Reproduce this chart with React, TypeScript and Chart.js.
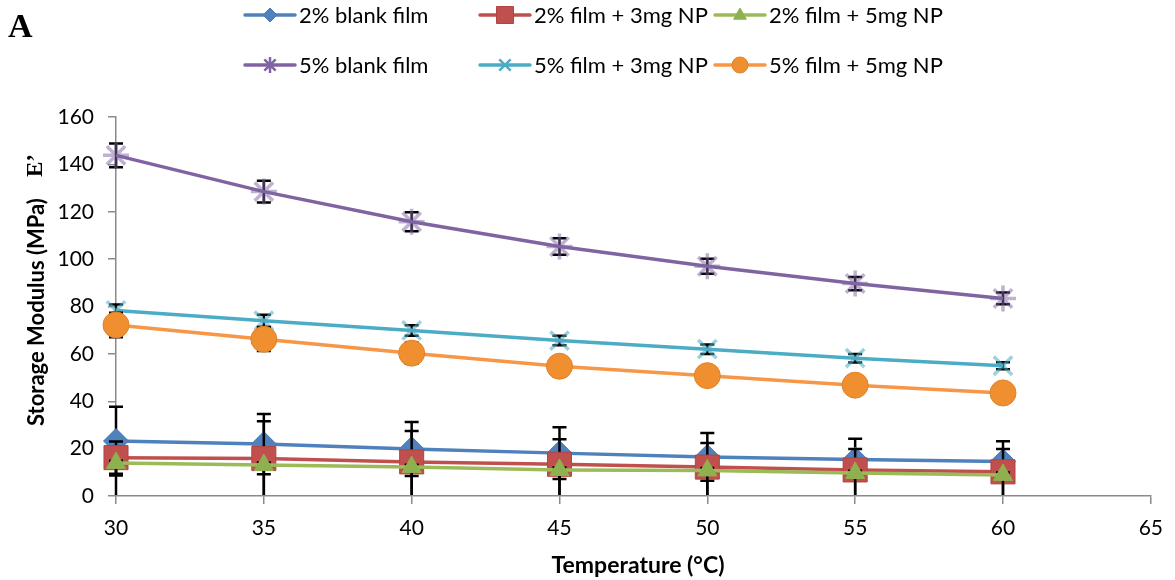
import React, { useEffect, useRef } from 'react';
import { Chart, registerables } from 'chart.js';

Chart.register(...registerables);

// ---------- data ----------
const temperatures = [30, 35, 40, 45, 50, 55, 60];
const xTickValues = [30, 35, 40, 45, 50, 55, 60, 65];
const yTickValues = [0, 20, 40, 60, 80, 100, 120, 140, 160];

const seriesLabels = [
  '2% blank film',
  '2% film + 3mg NP',
  '2% film + 5mg NP',
  '5% blank film',
  '5% film + 3mg NP',
  '5% film + 5mg NP',
];

const blank2 = [23.2, 21.9, 19.8, 18.1, 16.5, 15.4, 14.6];
const blank2ErrPlus = [14.5, 12.7, 11.4, 10.9, 10.1, 8.8, 8.5];
const blank2ErrMinus = [14.5, 12.7, 11.4, 10.9, 10.1, 8.8, 8.5];

const film2np3 = [16.2, 15.8, 14.4, 13.4, 12.2, 11.0, 10.2];
const film2np3ErrPlus = [6.8, 15.8, 13.0, 10.6, 10.2, 8.8, 9.6];
const film2np3ErrMinus = [6.8, 16.5, 15.0, 14.0, 13.0, 12.0, 11.0];

const film2np5 = [13.9, 13.1, 12.2, 11.0, 10.8, 9.7, 8.9];
const film2np5ErrPlus = [1.0, 1.0, 1.0, 1.0, 1.0, 1.0, 1.0];
const film2np5ErrMinus = [14.5, 14.0, 13.0, 12.0, 11.5, 10.5, 10.0];

const blank5 = [143.8, 128.5, 115.8, 105.3, 97.0, 89.7, 83.4];
const blank5Err = [5.0, 4.6, 4.0, 3.5, 3.2, 2.8, 2.5];

const film5np3 = [78.3, 74.0, 69.9, 65.6, 62.0, 58.2, 55.0];
const film5np3Err = [2.5, 2.5, 2.2, 2.0, 2.0, 1.8, 1.5];

const film5np5 = [72.2, 66.2, 60.3, 54.8, 50.8, 46.8, 43.5];
const film5np5Err = [5.2, 5.0, 4.5, 4.2, 4.0, 3.6, 3.2];

// ---------- styling ----------
const SANS = 'Lato, "Open Sans", sans-serif';
const SERIF = '"Liberation Serif", "DejaVu Serif", serif';

type Series = {
  label: string;
  values: number[];
  errPlus: number[];
  errMinus: number[];
  color: string;
  style: string;
  radius: number;
  fill: string;
  border: string;
  borderWidth: number;
  legendRadius: number;
  legendBorder: string;
};

const series: Series[] = [
  { label: seriesLabels[0], values: blank2, errPlus: blank2ErrPlus, errMinus: blank2ErrMinus, color: '#4F81BD', style: 'rectRot', radius: 12.5, fill: '#4F81BD', border: '#4679B5', borderWidth: 1, legendRadius: 7, legendBorder: '#4679B5' },
  { label: seriesLabels[1], values: film2np3, errPlus: film2np3ErrPlus, errMinus: film2np3ErrMinus, color: '#C0504D', style: 'rect', radius: 17, fill: '#C0504D', border: '#B04542', borderWidth: 1, legendRadius: 12, legendBorder: '#B04542' },
  { label: seriesLabels[2], values: film2np5, errPlus: film2np5ErrPlus, errMinus: film2np5ErrMinus, color: '#9BBB59', style: 'triangle', radius: 11, fill: '#8FB04E', border: '#8FB04E', borderWidth: 1, legendRadius: 7, legendBorder: '#8FB04E' },
  { label: seriesLabels[3], values: blank5, errPlus: blank5Err, errMinus: blank5Err, color: '#8064A2', style: 'star', radius: 13, fill: 'rgba(0,0,0,0)', border: 'rgba(128,100,162,0.5)', borderWidth: 3.5, legendRadius: 8, legendBorder: '#8064A2' },
  { label: seriesLabels[4], values: film5np3, errPlus: film5np3Err, errMinus: film5np3Err, color: '#4BACC6', style: 'crossRot', radius: 13, fill: 'rgba(0,0,0,0)', border: 'rgba(75,172,198,0.55)', borderWidth: 3.5, legendRadius: 8, legendBorder: '#4BACC6' },
  { label: seriesLabels[5], values: film5np5, errPlus: film5np5Err, errMinus: film5np5Err, color: '#F79646', style: 'circle', radius: 13, fill: '#EF8F2F', border: '#E08228', borderWidth: 1, legendRadius: 8, legendBorder: '#E08228' },
];

function shapePath(ctx: CanvasRenderingContext2D, style: string, x: number, y: number, r: number) {
  ctx.beginPath();
  if (style === 'rectRot') {
    ctx.moveTo(x, y - r); ctx.lineTo(x + r, y); ctx.lineTo(x, y + r); ctx.lineTo(x - r, y); ctx.closePath();
  } else if (style === 'rect') {
    const s = r * Math.SQRT1_2;
    ctx.rect(x - s, y - s, 2 * s, 2 * s);
  } else if (style === 'triangle') {
    ctx.moveTo(x, y - r); ctx.lineTo(x + r * 0.9, y + r * 0.6); ctx.lineTo(x - r * 0.9, y + r * 0.6); ctx.closePath();
  } else if (style === 'circle') {
    ctx.arc(x, y, r, 0, Math.PI * 2);
  } else if (style === 'star') {
    const d = r * Math.SQRT1_2;
    ctx.moveTo(x, y - r); ctx.lineTo(x, y + r);
    ctx.moveTo(x - d, y - d); ctx.lineTo(x + d, y + d);
    ctx.moveTo(x - d, y + d); ctx.lineTo(x + d, y - d);
  } else if (style === 'crossRot') {
    const d = r * Math.SQRT1_2;
    ctx.moveTo(x - d, y - d); ctx.lineTo(x + d, y + d);
    ctx.moveTo(x - d, y + d); ctx.lineTo(x + d, y - d);
  }
}

const legendRows = [15, 65];
const legendCols = [245, 480, 715];

const errorBarPlugin = {
  id: 'errorBars',
  beforeDatasetDraw(chart: any, args: any) {
    const s = series[args.index];
    if (!s) return;
    const { ctx, chartArea } = chart;
    const yScale = chart.scales.y;
    const meta = args.meta;
    ctx.save();
    ctx.beginPath();
    ctx.rect(chartArea.left - 20, chartArea.top - 20, chartArea.right - chartArea.left + 40, chartArea.bottom - chartArea.top + 19);
    ctx.clip();
    ctx.strokeStyle = '#000';
    ctx.lineWidth = 2.5;
    meta.data.forEach((pt: any, j: number) => {
      const x = pt.x;
      const yTop = yScale.getPixelForValue(s.values[j] + s.errPlus[j]);
      const yBot = yScale.getPixelForValue(s.values[j] - s.errMinus[j]);
      ctx.beginPath();
      ctx.moveTo(x, yTop); ctx.lineTo(x, yBot);
      ctx.moveTo(x - 7, yTop); ctx.lineTo(x + 7, yTop);
      ctx.moveTo(x - 7, yBot); ctx.lineTo(x + 7, yBot);
      ctx.stroke();
    });
    ctx.restore();
  },
};

const decorPlugin = {
  id: 'decor',
  afterDraw(chart: any) {
    const ctx: CanvasRenderingContext2D = chart.ctx;
    ctx.save();
    // panel letter
    ctx.fillStyle = '#000';
    ctx.font = `bold 34px ${SERIF}`;
    ctx.textBaseline = 'alphabetic';
    ctx.textAlign = 'left';
    ctx.fillText('A', 8, 37);

    // legend
    series.forEach((s, i) => {
      const x0 = legendCols[i % 3];
      const y0 = legendRows[Math.floor(i / 3)];
      ctx.strokeStyle = s.color;
      ctx.lineWidth = 3.5;
      ctx.lineCap = 'round';
      ctx.beginPath();
      ctx.moveTo(x0, y0); ctx.lineTo(x0 + 50, y0);
      ctx.stroke();
      ctx.lineCap = 'butt';
      shapePath(ctx, s.style, x0 + 25, y0, s.legendRadius);
      if (s.style === 'star' || s.style === 'crossRot') {
        ctx.strokeStyle = s.legendBorder;
        ctx.lineWidth = 2.5;
        ctx.stroke();
      } else {
        ctx.fillStyle = s.fill;
        ctx.fill();
        ctx.strokeStyle = s.legendBorder;
        ctx.lineWidth = 1;
        ctx.stroke();
      }
      ctx.fillStyle = '#000';
      ctx.font = `22px ${SANS}`;
      ctx.textBaseline = 'middle';
      ctx.textAlign = 'left';
      ctx.fillText(s.label, x0 + 54, y0 + 1);
    });

    // x title
    ctx.font = `bold 23px ${SANS}`;
    ctx.textAlign = 'center';
    ctx.textBaseline = 'alphabetic';
    ctx.fillText('Temperature (°C)', 638, 573);

    // y title
    ctx.translate(37, 426);
    ctx.rotate(-Math.PI / 2);
    ctx.textAlign = 'left';
    ctx.textBaseline = 'middle';
    ctx.font = `bold 22px ${SANS}`;
    const main = 'Storage Modulus (MPa)';
    ctx.fillText(main, 0, 0);
    const w = ctx.measureText(main).width;
    ctx.font = `bold 23px ${SERIF}`;
    ctx.fillText('E’', Math.max(w + 14, 249), -1);
    ctx.restore();
  },
};

export default function App() {
  const ref = useRef<HTMLCanvasElement>(null);
  useEffect(() => {
    document.body.style.margin = '0';
    const canvas = ref.current;
    if (!canvas) return;
    const axisColor = '#8a8a8a';
    const chart = new Chart(canvas, {
      type: 'line',
      data: {
        datasets: series.map((s, i) => ({
          label: s.label,
          data: temperatures.map((t, j) => ({ x: t, y: s.values[j] })),
          borderColor: s.color,
          borderWidth: 3.5,
          tension: 0,
          pointStyle: s.style as any,
          pointRadius: s.radius,
          pointHoverRadius: s.radius,
          pointBackgroundColor: s.fill,
          pointBorderColor: s.border,
          pointBorderWidth: s.borderWidth,
          order: -i,
          clip: false as any,
        })),
      },
      options: {
        responsive: false,
        animation: false,
        devicePixelRatio: 1,
        layout: { padding: { top: 117, right: 18, left: 0, bottom: 0 } },
        plugins: { legend: { display: false }, tooltip: { enabled: false } },
        scales: {
          x: {
            type: 'linear',
            min: 30,
            max: 65,
            afterFit: (s: any) => { s.height = 84; },
            afterBuildTicks: (s: any) => { s.ticks = xTickValues.map((v) => ({ value: v })); },
            ticks: { font: { family: SANS, size: 21 }, color: '#000', padding: 12, maxRotation: 0 },
            grid: { drawOnChartArea: false, drawTicks: true, tickLength: 8, color: axisColor, lineWidth: 1.5 },
            border: { display: true, color: axisColor, width: 1.5 },
          },
          y: {
            min: 0,
            max: 160,
            afterFit: (s: any) => { s.width = 116; },
            afterBuildTicks: (s: any) => { s.ticks = yTickValues.map((v) => ({ value: v })); },
            ticks: { font: { family: SANS, size: 21 }, color: '#000', padding: 14 },
            grid: { drawOnChartArea: false, drawTicks: true, tickLength: 8, color: axisColor, lineWidth: 1.5 },
            border: { display: true, color: axisColor, width: 1.5 },
          },
        },
      } as any,
      plugins: [errorBarPlugin, decorPlugin],
    });
    return () => chart.destroy();
  }, []);
  return <canvas ref={ref} width={1175} height={580} style={{ display: 'block', width: 1175, height: 580 }} />;
}
